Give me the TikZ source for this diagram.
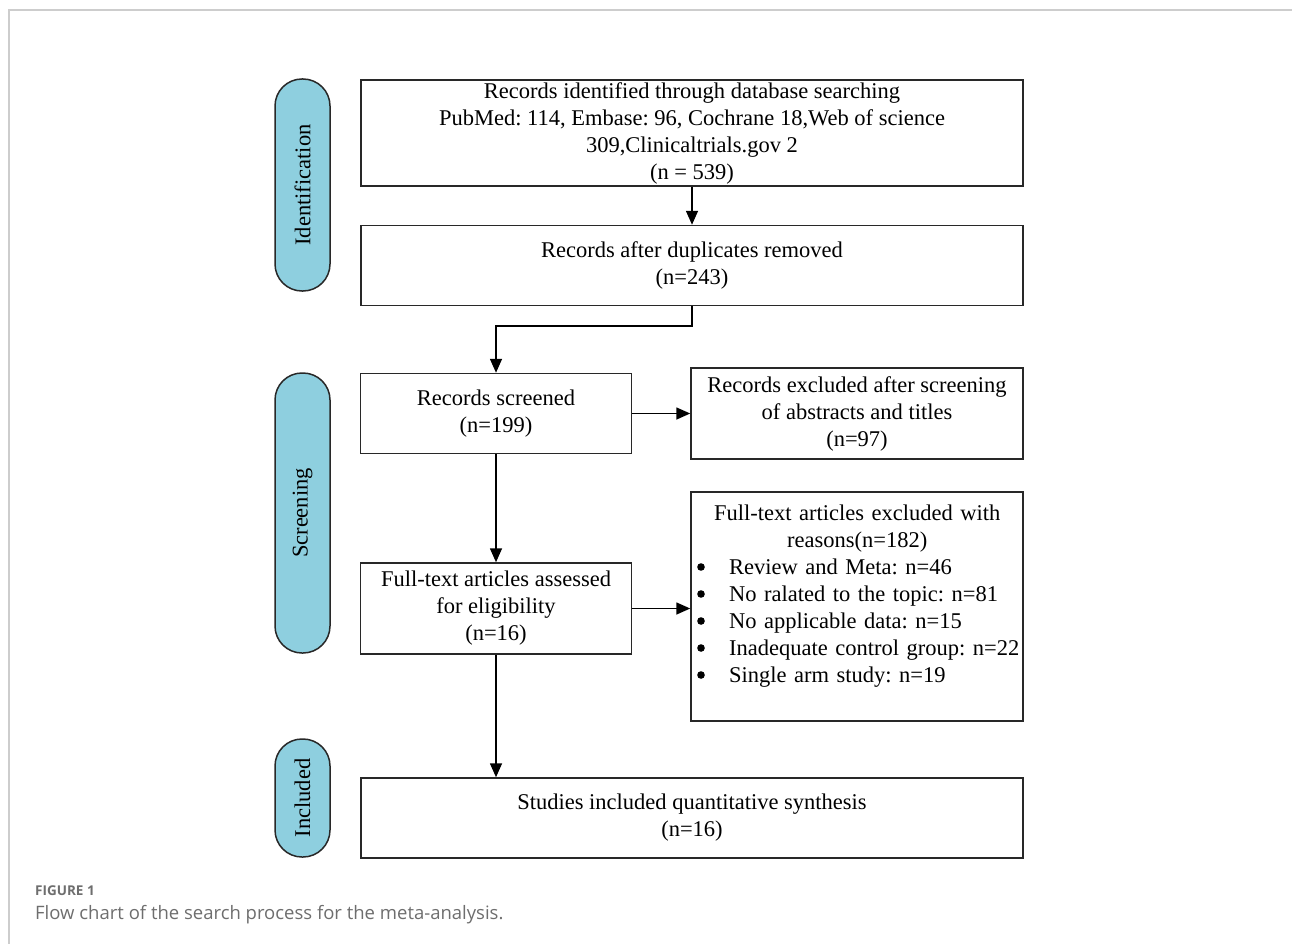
\documentclass[tikz,border=0pt]{standalone}
\usepackage{fontspec}
\setmainfont{Liberation Serif}
\newfontfamily\capfont{Open Sans}
\usetikzlibrary{arrows.meta}
\definecolor{pillblue}{RGB}{142,207,223}
\definecolor{edgegray}{RGB}{40,40,40}
\definecolor{capgray}{RGB}{110,110,110}
\definecolor{framegray}{RGB}{205,205,205}
\newcommand\bul{\hspace*{34pt}}
\begin{document}
\frenchspacing
\begin{tikzpicture}[x=1pt,y=-1pt,
  box/.style={draw=edgegray,line width=1.5pt,rectangle,inner sep=0pt,align=center,
    font=\fontsize{22.5}{27}\selectfont},
  pill/.style={draw=edgegray,line width=1.5pt,fill=pillblue,rectangle,rounded corners=27pt,
    minimum width=55pt,inner sep=0pt},
  pilltext/.style={rotate=90,font=\fontsize{22.5}{27}\selectfont},
  dot/.style={fill=black},
  arr/.style={draw=black,line width=1.6pt,-{Triangle[length=14pt,width=12pt]}}]
\useasboundingbox (0,0) rectangle (1292,944);
\fill[white] (0,0) rectangle (1292,944);
\draw[framegray,line width=1.2pt] (9,944) -- (9,10) -- (1292,10);
% pills
\node[pill,minimum height=212pt] (pid) at (302.5,185) {};
\node[pilltext] (pidt) at (pid.center) {Identification};
\node[pill,minimum height=280pt] (psc) at (302.5,513) {};
\node[pilltext] (psct) at (psc.center) {Screening};
\node[pill,minimum height=118pt] (pin) at (302.5,798) {};
\node[pilltext] (pint) at (pin.center) {Included};
% boxes
\node[box,minimum width=662pt,minimum height=106pt] (b1) at (692,133)
  {Records identified through database searching\\
   PubMed: 114, Embase: 96, Cochrane 18,Web of science\\
   309,Clinicaltrials.gov 2\\
   (n = 539)};
\node[box,minimum width=662pt,minimum height=80pt] (b2) at (692,265.5)
  {Records after duplicates removed\\(n=243)};
\node[box,minimum width=271pt,minimum height=80pt] (rs) at (496,413.5)
  {Records screened\\(n=199)};
\node[box,minimum width=332pt,minimum height=91pt] (ex1) at (857,413.5)
  {Records excluded after screening\\of abstracts and titles\\(n=97)};
\node[box,minimum width=271pt,minimum height=91pt] (ft) at (496,608.5)
  {Full-text articles assessed\\for eligibility\\(n=16)};
\node[box,minimum width=332pt,minimum height=229pt] (ex2) at (857,606.5) {};
\node[anchor=north west,inner sep=0pt,text width=324pt,
      font=\fontsize{22.5}{27}\selectfont] (ex2t) at (695,505)
  {\centering Full-text articles excluded with\\ reasons(n=182)\par
   \raggedright
   \mbox{\bul Review and Meta: n=46}\par
   \mbox{\bul No ralated to the topic: n=81}\par
   \mbox{\bul No applicable data: n=15}\par
   \mbox{\bul Inadequate control group: n=22}\par
   \mbox{\bul Single arm study: n=19}\par};
\foreach \yy in {567,594,621,648,675} \fill[dot] (701,\yy) circle (3.8pt);
\node[box,minimum width=662pt,minimum height=80pt] (inc) at (692,818)
  {Studies included quantitative synthesis\\(n=16)};
% connectors
\draw[arr] (b1.south) -- (b2.north);
\draw[arr] (b2.south) -- ++(0,20) -| (rs.north);
\draw[arr] (rs.east) -- (rs.east -| ex1.west);
\draw[arr] (rs.south) -- (ft.north);
\draw[arr] (ft.east) -- (ft.east -| ex2.west);
\draw[arr] (ft.south) -- (ft.south |- inc.north);
% caption
\node[anchor=base west,inner sep=0pt,text=capgray,font=\capfont\fontsize{13.5}{16}\selectfont\bfseries] (capA) at (35,895) {FIGURE 1};
\node[anchor=base west,inner sep=0pt,text=capgray,font=\capfont\fontsize{18.5}{22}\selectfont] (capB) at (35,919) {Flow chart of the search process for the meta-analysis.};
\end{tikzpicture}
\end{document}
